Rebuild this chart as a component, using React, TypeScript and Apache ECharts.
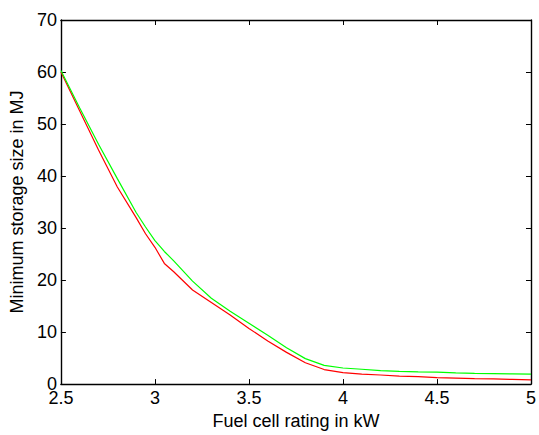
import React, { useEffect, useRef } from "react";
import * as echarts from "echarts";

const xValues = [2.5, 2.6, 2.7, 2.8, 2.9, 2.95, 3.0, 3.05, 3.1, 3.2, 3.3, 3.4, 3.5, 3.6, 3.7, 3.8, 3.9, 4.0, 4.1, 4.2, 4.3, 4.4, 4.5, 4.6, 4.7, 4.8, 4.9, 5.0];
const redValues = [60.0, 52.5, 45.0, 37.9, 32.0, 28.9, 26.3, 23.2, 21.6, 18.1, 15.7, 13.3, 10.7, 8.3, 6.1, 4.1, 2.8, 2.2, 1.9, 1.75, 1.55, 1.45, 1.25, 1.15, 1.05, 1.0, 0.9, 0.8];
const greenValues = [60.3, 53.1, 46.1, 39.5, 33.0, 30.2, 27.6, 25.5, 23.7, 19.8, 16.5, 14.0, 11.7, 9.4, 7.0, 4.9, 3.6, 3.1, 2.85, 2.6, 2.45, 2.35, 2.3, 2.15, 2.05, 2.0, 1.95, 1.9];

const xName = "Fuel cell rating in kW";
const yName = "Minimum storage size in MJ";

export default function App() {
  const ref = useRef<HTMLDivElement>(null);
  useEffect(() => {
    if (!ref.current) return;
    const chart = echarts.init(ref.current, null, { renderer: "svg" });
    const font = "Liberation Sans, Arial, sans-serif";
    const axisLine = { show: true, onZero: false, lineStyle: { color: "#000", width: 1.4 } };
    const tick = { show: true, inside: true, length: 5, lineStyle: { color: "#000", width: 1 } };
    chart.setOption({
      animation: false,
      backgroundColor: "#fff",
      grid: { left: 58, right: 6, top: 20, bottom: 45 },
      xAxis: [
        {
          type: "value",
          min: 2.5,
          max: 5,
          interval: 0.5,
          position: "bottom",
          axisLine,
          axisTick: tick,
          splitLine: { show: false },
          axisLabel: { color: "#000", fontSize: 18, fontFamily: font, margin: 5 },
          name: xName,
          nameLocation: "middle",
          nameGap: 25,
          nameTextStyle: { color: "#000", fontSize: 18, fontFamily: font },
        },
        {
          type: "value",
          min: 2.5,
          max: 5,
          interval: 0.5,
          position: "top",
          axisLine,
          axisTick: tick,
          splitLine: { show: false },
          axisLabel: { show: false },
        },
      ],
      yAxis: [
        {
          type: "value",
          min: 0,
          max: 70,
          interval: 10,
          position: "left",
          axisLine,
          axisTick: tick,
          splitLine: { show: false },
          axisLabel: { color: "#000", fontSize: 18, fontFamily: font, margin: 4 },
          name: yName,
          nameLocation: "middle",
          nameGap: 29,
          nameTextStyle: { color: "#000", fontSize: 18, fontFamily: font },
        },
        {
          type: "value",
          min: 0,
          max: 70,
          interval: 10,
          position: "right",
          axisLine,
          axisTick: tick,
          splitLine: { show: false },
          axisLabel: { show: false },
        },
      ],
      series: [
        {
          type: "line",
          data: xValues.map((x, i) => [x, redValues[i]]),
          showSymbol: false,
          lineStyle: { color: "#ff0000", width: 1.2 },
          itemStyle: { color: "#ff0000" },
        },
        {
          type: "line",
          data: xValues.map((x, i) => [x, greenValues[i]]),
          showSymbol: false,
          lineStyle: { color: "#00ff00", width: 1.2 },
          itemStyle: { color: "#00ff00" },
        },
      ],
    });
    return () => chart.dispose();
  }, []);
  return <div ref={ref} style={{ width: 539, height: 435, position: "absolute", left: 0, top: 0 }} />;
}
